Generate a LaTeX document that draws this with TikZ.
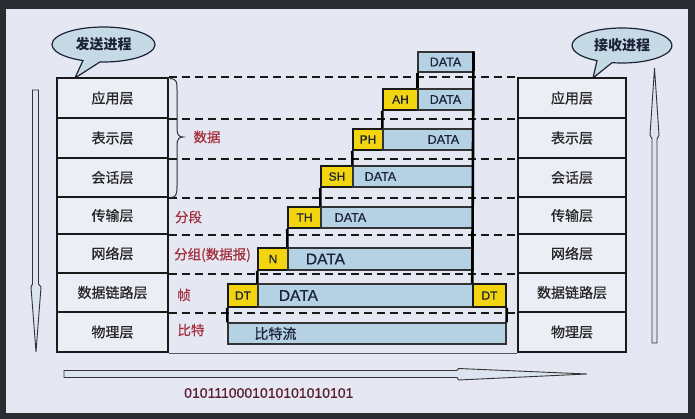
\documentclass[tikz,border=0pt]{standalone}
\usepackage{fontspec}
\setmainfont{Liberation Sans}
\newfontfamily\cjk{Noto Sans CJK SC}
\newfontfamily\cjkm{Noto Sans CJK SC}[FakeBold=0.7]
\newfontfamily\latm{Liberation Sans}[FakeBold=0.6]
\definecolor{frame}{HTML}{2A2C32}
\definecolor{slidebg}{HTML}{E5E8F3}
\definecolor{boxbg}{HTML}{ECEEF6}
\definecolor{hdr}{HTML}{F2D40F}
\definecolor{datblue}{HTML}{B5D2E5}
\definecolor{bubble}{HTML}{C6DAE5}
\definecolor{ink}{HTML}{1C2238}
\definecolor{redlab}{HTML}{A3303C}
\definecolor{bits}{HTML}{5C1E32}
\definecolor{arrowfill}{HTML}{DCE5EF}
\begin{document}
\begin{tikzpicture}[x=1pt,y=-1pt,
  layer/.style={draw=black!90, line width=2.6pt, fill=boxbg, inner sep=0pt,
    font=\cjkm\fontsize{14}{14}\selectfont, text=black!85},
  lw/.style={layer, minimum width=111pt},
  rw/.style={layer, minimum width=108pt},
  sepline/.style={draw=black!90, line width=2pt, dash pattern=on 8pt off 5pt},
  hdrbox/.style={draw=black!90, line width=1.5pt, fill=hdr, inner sep=0pt,
    font=\latm\fontsize{12}{12}\selectfont, text=ink},
  datbox/.style={draw=black!80, line width=1.1pt, fill=datblue, inner sep=0pt},
  dtxt/.style={font=\latm\fontsize{12.5}{12.5}\selectfont, text=ink, inner sep=0pt},
  bigtxt/.style={font=\latm\fontsize{15.5}{15.5}\selectfont, text=ink, inner sep=0pt},
  spine/.style={draw=black, line width=2.6pt},
  redtxt/.style={font=\cjkm\fontsize{13.5}{13.5}\selectfont, text=redlab, inner sep=0pt},
  bubtxt/.style={font=\cjk\bfseries\fontsize{14}{14}\selectfont, text=ink, inner sep=0pt},
  bubshape/.style={draw=ink, line width=1.2pt, fill=bubble},
  bigarrow/.style={draw=black!80, line width=0.9pt, fill=arrowfill}
]
\useasboundingbox (0,0) rectangle (695,419);
\fill[frame] (0,0) rectangle (695,419);
\fill[slidebg] (6,9) rectangle (688,413);

% speech bubbles
\draw[bubshape] (103.5,44.5) ++(113.5:51.5 and 17.5)
  arc[start angle=113.5, end angle=454, x radius=51.5, y radius=17.5]
  -- (75,78) -- cycle;
\node[bubtxt] (send) at (103.5,44) {发送进程};
\draw[bubshape] (622,45.5) ++(120:50 and 17.5)
  arc[start angle=120, end angle=461.5, x radius=50, y radius=17.5]
  -- (593,78) -- cycle;
\node[bubtxt] (recv) at (622,45) {接收进程};

% big arrows
\draw[bigarrow] (32.5,90) -- (38.5,90) -- (38.5,284) -- (41,287) -- (36,352)
  -- (31,287) -- (32.5,284) -- cycle;
\draw[bigarrow] (654.5,68) -- (659,135) -- (657,139) -- (657,343) -- (652,343)
  -- (652,139) -- (650,135) -- cycle;
\draw[bigarrow] (64,370.5) -- (457,370.5) -- (458.5,368.5) -- (587,374)
  -- (458.5,380) -- (457,377.5) -- (64,377.5) -- cycle;
\node[font=\latm\fontsize{14}{14}\selectfont, text=bits, anchor=west, inner sep=0pt]
  (bitstr) at (184,393) {0101110001010101010101};

% layer stacks
\node[lw, minimum height=40pt] (L1) at (112.5,98) {应用层};
\node[lw, minimum height=40pt] (L2) at (112.5,138) {表示层};
\node[lw, minimum height=39pt] (L3) at (112.5,177.5) {会话层};
\node[lw, minimum height=37pt] (L4) at (112.5,215.5) {传输层};
\node[lw, minimum height=39pt] (L5) at (112.5,253.5) {网络层};
\node[lw, minimum height=39pt] (L6) at (112.5,292.5) {数据链路层};
\node[lw, minimum height=40pt] (L7) at (112.5,332) {物理层};
\node[rw, minimum height=40pt] (R1) at (572,98) {应用层};
\node[rw, minimum height=40pt] (R2) at (572,138) {表示层};
\node[rw, minimum height=39pt] (R3) at (572,177.5) {会话层};
\node[rw, minimum height=37pt] (R4) at (572,215.5) {传输层};
\node[rw, minimum height=39pt] (R5) at (572,253.5) {网络层};
\node[rw, minimum height=39pt] (R6) at (572,292.5) {数据链路层};
\node[rw, minimum height=40pt] (R7) at (572,332) {物理层};

% separators
\draw[sepline] (L1.north east) -- (R1.north west);
\foreach \i in {1,...,6} {
  \draw[sepline] (L\i.south east) -- (R\i.south west);
}
\draw[draw=black!65, line width=1pt] (L7.south east) -- (R7.south west);

% brace and labels
\draw[black!80, line width=1pt] (170,78.5) .. controls (177,79) and (177,82) .. (177,90)
  -- (177,128) .. controls (177,135) and (179,137) .. (183,137)
  .. controls (179,137) and (177,139) .. (177,146)
  -- (177,186) .. controls (177,195) and (176,197.5) .. (170,197.5);
\node[redtxt] (lshuju) at (207,137) {数据};
\node[redtxt] (lfenduan) at (188.5,217) {分段};
\node[redtxt, anchor=west] (lfenzu) at (174,255) {分组(数据报)};
\node[redtxt] (lzhen) at (184,295) {帧};
\node[redtxt] (lbite) at (191,330) {比特};

% packets
\node[datbox, minimum width=55pt, minimum height=20pt] (A0d) at (445.5,62) {};
\node[dtxt] (t0) at (A0d.center) {DATA};

\node[hdrbox, minimum width=35pt, minimum height=21pt] (AH) at (400.5,99.5) {AH};
\node[datbox, minimum width=55pt, minimum height=21pt] (Ad) at (445.5,99.5) {};
\node[dtxt] (t1) at (Ad.center) {DATA};

\node[hdrbox, minimum width=30pt, minimum height=21pt] (PH) at (368,139.5) {PH};
\node[datbox, minimum width=90pt, minimum height=21pt] (Pd) at (428,139.5) {};
\node[dtxt] (t2) at ([xshift=61pt]Pd.west) {DATA};

\node[hdrbox, minimum width=32pt, minimum height=21pt] (SH) at (337,176.5) {SH};
\node[datbox, minimum width=120pt, minimum height=21pt] (Sd) at (413,176.5) {};
\node[dtxt] (t3) at ([xshift=28pt]Sd.west) {DATA};

\node[hdrbox, minimum width=33pt, minimum height=21pt] (TH) at (304.5,217.5) {TH};
\node[datbox, minimum width=152pt, minimum height=21pt] (Td) at (397,217.5) {};
\node[dtxt] (t4) at ([xshift=30pt]Td.west) {DATA};

\node[hdrbox, minimum width=30pt, minimum height=22pt] (NN) at (273,259) {N};
\node[datbox, minimum width=185pt, minimum height=22pt] (Nd) at (380.5,259) {};
\node[bigtxt] (t5) at ([xshift=38pt]Nd.west) {DATA};

\node[hdrbox, minimum width=30pt, minimum height=23pt] (DTl) at (243,295.5) {DT};
\node[datbox, minimum width=215pt, minimum height=23pt] (Dd) at (365.5,295.5) {};
\node[bigtxt] (t6) at ([xshift=41pt]Dd.west) {DATA};
\node[hdrbox, minimum width=33pt, minimum height=23pt] (DTr) at (489.5,295.5) {DT};

\node[datbox, minimum width=278pt, minimum height=21pt] (bitbar) at (367,333.5) {};
\node[font=\cjkm\fontsize{14}{14}\selectfont, text=ink, inner sep=0pt] (t7)
  at ([xshift=48pt]bitbar.west) {比特流};

% connecting verticals
\draw[spine] (A0d.north east) -- (DTr.north west);
\draw[spine] (A0d.south west) -- (Ad.north west);
\draw[spine] (AH.south west) -- (Pd.north west);
\draw[spine] (PH.south west) -- (Sd.north west);
\draw[spine] (SH.south west) -- (Td.north west);
\draw[spine] (TH.south west) -- (Nd.north west);
\draw[spine] (NN.south west) -- (Dd.north west);
\draw[spine] (DTl.south west) -- (bitbar.north west);
\draw[spine] (DTr.south east) -- (bitbar.north east);
\end{tikzpicture}
\end{document}
